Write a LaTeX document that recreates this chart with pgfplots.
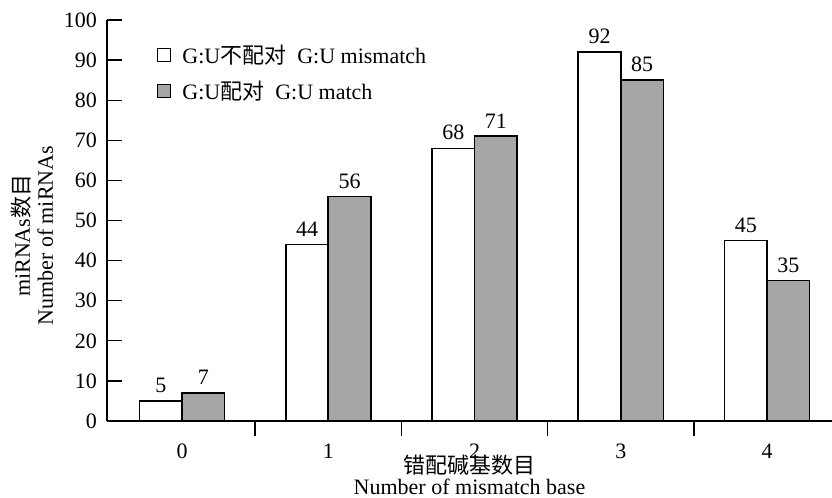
\documentclass[border=0pt]{standalone}
\usepackage{fontspec}
\setmainfont{Liberation Serif}
\newfontfamily\cjk{Noto Sans CJK SC}
\usepackage{pgfplots}
\pgfplotsset{compat=1.18}
\newcommand{\bigf}{\fontsize{22bp}{23bp}\selectfont}
\begin{document}
\begin{tikzpicture}
\begin{axis}[
  scale only axis, width=725bp, height=401bp,
  xmin=-0.5128, xmax=4.444, ymin=0, ymax=100,
  axis x line*=bottom, axis y line*=left,
  axis line style={line width=1.3bp, black},
  ytick={0,10,...,100},
  xtick={0,1,2,3,4},
  tick align=inside,
  major tick length=15bp,
  tick style={line width=1.3bp, black},
  xtick style={draw=none},
  extra x ticks={0.5,1.5,2.5,3.5},
  extra x tick labels={},
  extra x tick style={xtick style={draw=black}},
  /pgf/number format/assume math mode=true,
  tick label style={font=\bigf},
  xticklabel style={inner sep=1bp, yshift=-7bp},
  yticklabel style={inner sep=2bp, xshift=-8bp},
  ybar=0pt, bar width=42.5bp,
  nodes near coords,
  nodes near coords style={font=\bigf, black, yshift=4bp, /pgf/number format/assume math mode=true},
  xlabel={{\cjk\smash{错配碱基数目}}\rule{0pt}{16bp}\\Number of mismatch base},
  xlabel style={font=\fontsize{22bp}{21bp}\selectfont, align=center, at={(axis description cs:0.5,-0.091)}, anchor=north, inner sep=0pt},
  ylabel={miRNAs{\cjk 数目}\\Number of miRNAs},
  ylabel style={font=\bigf, align=center, at={(axis description cs:-0.103,0.462)}, anchor=center, inner sep=0pt},
  legend style={at={(axis description cs:0.069,0.9425)}, anchor=north west, draw=none, fill=none, font=\bigf, row sep=12bp, column sep=9bp, inner sep=0pt},
  legend cell align=left,
  legend image code/.code={\draw[#1, line width=1.2bp] (0bp,-6.5bp) rectangle (13bp,6.5bp);},
  clip=false,
]
\addplot[draw=black, line width=1.6bp, fill=white] coordinates {(0,5) (1,44) (2,68) (3,92) (4,45)};
\addplot[draw=black, line width=1.6bp, fill=black!35] coordinates {(0,7) (1,56) (2,71) (3,85) (4,35)};
\legend{G:U{\cjk 不配对}\hspace{0.5em}G:U mismatch, G:U{\cjk 配对}\hspace{0.5em}G:U match}
\coordinate (bl) at (rel axis cs:-0.14759,-0.19202);
\coordinate (tr) at (rel axis cs:1.0,1.04988);
\end{axis}
\pgfresetboundingbox
\useasboundingbox (bl) rectangle (tr);
\end{tikzpicture}
\end{document}
